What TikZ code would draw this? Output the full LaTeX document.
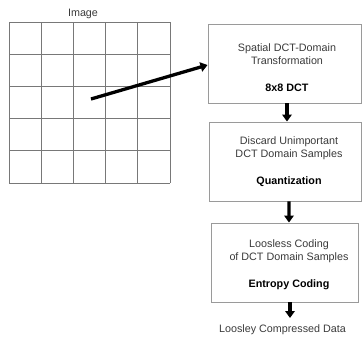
\documentclass[tikz,border=0pt]{standalone}
\usepackage{fontspec}
\setmainfont{Liberation Sans}
\usetikzlibrary{arrows.meta}
\definecolor{txt}{HTML}{3A3A3A}
\definecolor{edge}{HTML}{9A9A9A}
\definecolor{gridc}{HTML}{787878}
\tikzset{
  box/.style={draw=edge, line width=0.9bp, fill=white, inner sep=0pt},
  lbl/.style={text=txt, align=center, font=\fontsize{10.8}{13}\selectfont, inner sep=0pt},
  flow/.style={line width=3.3bp, -{Triangle[length=7bp,width=9.5bp]}, black},
}
\begin{document}
\begin{tikzpicture}[x=1bp,y=-1bp]
\useasboundingbox (0,0) rectangle (362,339);
% image grid
\foreach \x in {9,41.2,73.4,105.6,137.8,170}
  \draw[gridc, line width=0.9bp] (\x,22) -- (\x,183);
\foreach \y in {22,54.2,86.4,118.6,150.8,183}
  \draw[gridc, line width=0.9bp] (9,\y) -- (170,\y);
\node[lbl] (imgl) at (83,14) {Image};
\coordinate (src) at (91,99);
% boxes
\node[box, minimum width=153bp, minimum height=79bp] (b1) at (284.5,63.5) {};
\node[box, minimum width=152bp, minimum height=79bp] (b2) at (285,161.5) {};
\node[box, minimum width=147bp, minimum height=79bp] (b3) at (284.5,262.5) {};
\node[lbl] (t1) at (287,68) {Spatial DCT-Domain\\Transformation\\[14bp]\textcolor{black}{\bfseries 8x8 DCT}};
\node[lbl] (t2) at (289,162) {Discard Unimportant\\DCT Domain Samples\\[14bp]\textcolor{black}{\bfseries Quantization}};
\node[lbl] (t3) at (289,265) {Loosless Coding\\of DCT Domain Samples\\[14bp]\textcolor{black}{\bfseries Entropy Coding}};
\node[lbl] (out) at (282.5,330) {Loosley Compressed Data};
% arrows
\draw[flow] (src) -- (b1.west |- 0,65);
\draw[flow] ([xshift=2.5bp]b1.south) -- ([xshift=2bp]b2.north);
\draw[flow] ([xshift=4bp]b2.south) -- ([xshift=4.5bp]b3.north);
\draw[flow] ([xshift=5.5bp]b3.south) -- ([xshift=5.5bp]b3.south |- 0,318);
\end{tikzpicture}
\end{document}
